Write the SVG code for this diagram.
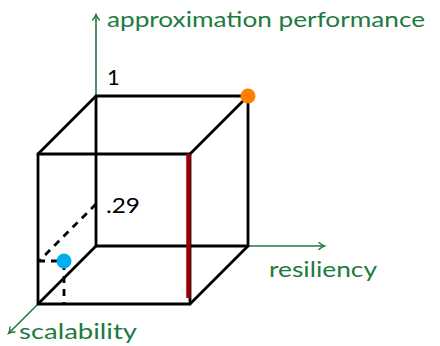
<svg xmlns="http://www.w3.org/2000/svg" width="440" height="346" viewBox="0 0 440 346">
<defs>
<marker id="arr" markerWidth="10" markerHeight="10" refX="7" refY="5" orient="auto" markerUnits="userSpaceOnUse">
<path d="M2,1.5 Q4.5,4 7.5,5 Q4.5,6 2,8.5" fill="none" stroke="#217a3e" stroke-width="1.4" stroke-linecap="round"/>
</marker>
</defs>
<style>
.edge{stroke:#000;stroke-width:2.8;fill:none;stroke-linecap:round;stroke-linejoin:round}
.dash{stroke:#000;stroke-width:2.8;fill:none;stroke-dasharray:7,6}
.axis{stroke:#217a3e;stroke-width:1.6;fill:none;marker-end:url(#arr)}
.lbl{font-family:Lato,"DejaVu Sans",sans-serif;font-size:22px;fill:#217a3e}
.num{font-family:Lato,"DejaVu Sans",sans-serif;font-size:22px;fill:#000}
</style>
<g id="connectors">
<line class="axis" x1="96" y1="96" x2="96" y2="15"/>
<line class="axis" x1="248" y1="246" x2="324" y2="246"/>
<line class="axis" x1="38" y1="304" x2="9" y2="333"/>
</g>
<g id="cube">
<rect class="edge" x="96" y="96" width="152" height="150"/>
<rect class="edge" x="38" y="154" width="152" height="150"/>
<line class="edge" x1="38" y1="154" x2="96" y2="96"/>
<line class="edge" x1="190" y1="154" x2="248" y2="96"/>
<line class="edge" x1="38" y1="304" x2="96" y2="246"/>
<line class="edge" x1="190" y1="304" x2="248" y2="246"/>
</g>
<g id="guides">
<line class="dash" x1="96" y1="204" x2="40" y2="260"/>
<line class="dash" x1="38" y1="261" x2="63" y2="261"/>
<line class="dash" x1="64" y1="263" x2="64" y2="304"/>
</g>
<g id="red-edge">
<line x1="188.5" y1="154" x2="188.5" y2="298" stroke="#990000" stroke-width="4.5"/>
</g>
<g id="point-orange"><circle cx="248" cy="96" r="7.5" fill="#ff8000"/></g>
<g id="point-blue"><circle cx="64" cy="261" r="7.5" fill="#00aeef"/></g>
<g id="labels">
<text class="lbl" x="107" y="27" textLength="318" lengthAdjust="spacingAndGlyphs">approximation performance</text>
<text class="lbl" x="269" y="277" textLength="108" lengthAdjust="spacingAndGlyphs">resiliency</text>
<text class="lbl" x="19" y="339" textLength="118" lengthAdjust="spacingAndGlyphs">scalability</text>
<text class="num" x="107" y="85">1</text>
<text class="num" x="106" y="213" textLength="34" lengthAdjust="spacingAndGlyphs">.29</text>
</g>
</svg>
